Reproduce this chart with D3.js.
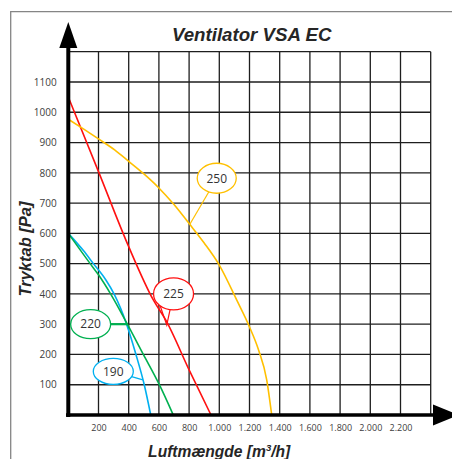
<!DOCTYPE html>
<html>
<head>
<meta charset="utf-8">
<script src="https://cdn.jsdelivr.net/npm/d3@7"></script>
<style>
  html, body { margin: 0; padding: 0; background: #fff; }
  svg { display: block; }
</style>
</head>
<body>
<div id="chart"></div>
<script>
// ---- Data ----
const xTicks = [200, 400, 600, 800, 1000, 1200, 1400, 1600, 1800, 2000, 2200];
const xTickLabels = ["200", "400", "600", "800", "1.000", "1.200", "1.400", "1.600", "1.800", "2.000", "2.200"];
const yTicks = [100, 200, 300, 400, 500, 600, 700, 800, 900, 1000, 1100];
const yTickLabels = ["100", "200", "300", "400", "500", "600", "700", "800", "900", "1000", "1100"];
const seriesNames = ["190", "220", "225", "250"];

// [airflow m3/h, pressure Pa]
const fan190 = [[0, 600], [100, 543], [166, 500], [250, 445], [303, 400], [386, 300], [448, 200], [503, 100], [546, 0]];
const fan220 = [[0, 600], [145, 500], [200, 463], [280, 400], [391, 300], [497, 200], [603, 100], [695, 0]];
const fan225 = [[0, 1050], [200, 804], [400, 556], [563, 380], [645, 314], [800, 149], [945, 0]];
const fan250 = [[0, 977], [100, 945], [200, 912], [309, 875], [400, 838], [497, 798], [600, 750], [700, 695], [799, 633], [900, 568], [1000, 495], [1115, 380], [1199, 292], [1260, 215], [1314, 116], [1347, 0]];

const W = 452, H = 459;
const svg = d3.select("#chart").append("svg").attr("width", W).attr("height", H);

const x = d3.scaleLinear().domain([0, 2400]).range([68.3, 430.7]);
const y = d3.scaleLinear().domain([0, 1200]).range([415, 51.7]);

// outer frame (only top and left visible)
svg.append("path")
  .attr("d", `M10.7,${H} L10.7,11.7 L${W},11.7`)
  .attr("fill", "none").attr("stroke", "#858585").attr("stroke-width", 1.3);

// title
svg.append("text")
  .attr("x", 251.7).attr("y", 40.7)
  .attr("text-anchor", "middle")
  .attr("font-family", "Liberation Sans, Arial, sans-serif")
  .attr("font-weight", "bold").attr("font-style", "italic")
  .attr("font-size", 18.7).attr("fill", "#262626")
  .text("Ventilator VSA EC");

// grid
const grid = svg.append("g").attr("stroke", "#1e1e1e").attr("stroke-width", 1.3);
d3.range(200, 2401, 200).forEach(v => {
  grid.append("line").attr("x1", x(v)).attr("x2", x(v)).attr("y1", y(1200)).attr("y2", y(0));
});
d3.range(100, 1201, 100).forEach(v => {
  grid.append("line").attr("x1", x(0)).attr("x2", x(2400)).attr("y1", y(v)).attr("y2", y(v));
});

// axes via d3 axis generators (labels only, lines drawn separately)
const yAxis = d3.axisLeft(y).tickValues(yTicks).tickSize(0).tickPadding(0)
  .tickFormat((d, i) => yTickLabels[i]);
const gy = svg.append("g").attr("transform", `translate(56.7,0)`).call(yAxis);
gy.select(".domain").remove();
gy.selectAll("text")
  .attr("font-family", "Open Sans, sans-serif").attr("font-size", 10).attr("fill", "#404040");

const xAxis = d3.axisBottom(x).tickValues(xTicks).tickSize(0).tickPadding(0)
  .tickFormat((d, i) => xTickLabels[i]);
const gx = svg.append("g").attr("transform", `translate(0,424.5)`).call(xAxis);
gx.select(".domain").remove();
gx.selectAll("text")
  .attr("font-family", "Open Sans, sans-serif").attr("font-size", 9).attr("fill", "#404040");

// axis titles
svg.append("text")
  .attr("transform", `translate(31,249) rotate(-90)`)
  .attr("text-anchor", "middle")
  .attr("font-family", "Liberation Sans, Arial, sans-serif")
  .attr("font-weight", "bold").attr("font-style", "italic")
  .attr("font-size", 16.5).attr("fill", "#262626")
  .text("Tryktab [Pa]");

const xt = svg.append("text")
  .attr("x", 219.2).attr("y", 456.5)
  .attr("text-anchor", "middle")
  .attr("font-family", "Liberation Sans, Arial, sans-serif")
  .attr("font-weight", "bold").attr("font-style", "italic")
  .attr("font-size", 15.6).attr("fill", "#262626");
xt.append("tspan").text("Luftmængde [m");
xt.append("tspan").attr("font-size", 9.5).attr("dy", -6).text("3");
xt.append("tspan").attr("dy", 6).text("/h]");

// curves
const colors = { "190": "#00B0F0", "220": "#00B050", "225": "#FF1010", "250": "#FFC000" };
const seriesData = { "190": fan190, "220": fan220, "225": fan225, "250": fan250 };
const line = d3.line().x(d => x(d[0])).y(d => y(d[1])).curve(d3.curveMonotoneX);
seriesNames.forEach(n => {
  svg.append("path").attr("d", line(seriesData[n]))
    .attr("fill", "none").attr("stroke", colors[n]).attr("stroke-width", 1.6);
});

// thick axis lines + arrows
svg.append("line").attr("x1", x(0)).attr("x2", x(0)).attr("y1", 417).attr("y2", 46)
  .attr("stroke", "#000").attr("stroke-width", 4);
svg.append("line").attr("x1", 66).attr("x2", 434).attr("y1", y(0)).attr("y2", y(0))
  .attr("stroke", "#000").attr("stroke-width", 3.6);
svg.append("path").attr("d", `M${x(0) - 9},48 L${x(0)},22 L${x(0) + 9},48 Z`).attr("fill", "#000");
svg.append("path").attr("d", `M433,${y(0) - 10.5} L459,${y(0)} L433,${y(0) + 10.5} Z`).attr("fill", "#000");

// annotations (ellipse callouts)
function ellipsePoint(cx, cy, rx, ry, tx, ty) {
  const dx = tx - cx, dy = ty - cy;
  const t = 1 / Math.sqrt((dx / rx) ** 2 + (dy / ry) ** 2);
  return [cx + dx * t, cy + dy * t];
}
function callout(name, cxv, cyv, rx, ry, txv, tyv, opts = {}) {
  const c = colors[name];
  const cx = x(cxv), cy = y(cyv), tx = x(txv), ty = y(tyv);
  const g = svg.append("g");
  if (opts.wedge) {
    const a1 = 132 * Math.PI / 180, a2 = 100 * Math.PI / 180;
    const p1 = [cx + rx * Math.cos(a1), cy + ry * Math.sin(a1)];
    const p2 = [cx + rx * Math.cos(a2), cy + ry * Math.sin(a2)];
    g.append("path").attr("d", `M${p1[0]},${p1[1]} L${tx},${ty} L${p2[0]},${p2[1]}`)
      .attr("fill", "none").attr("stroke", c).attr("stroke-width", 1.2);
  } else {
    const p = ellipsePoint(cx, cy, rx, ry, tx, ty);
    g.append("line").attr("x1", p[0]).attr("y1", p[1]).attr("x2", tx).attr("y2", ty)
      .attr("stroke", c).attr("stroke-width", opts.lw || 1.2);
  }
  g.append("ellipse").attr("cx", cx).attr("cy", cy).attr("rx", rx).attr("ry", ry)
    .attr("fill", "#fff").attr("stroke", c).attr("stroke-width", 1.3);
  g.append("text").attr("x", cx).attr("y", cy).attr("dy", "0.36em")
    .attr("text-anchor", "middle")
    .attr("font-family", "Open Sans, sans-serif").attr("font-size", 12).attr("fill", "#333")
    .text(name);
}
callout("250", 983, 782, 19.5, 15, 805, 630);
callout("225", 697, 400, 20, 16, 652, 297, { wedge: true });
callout("220", 148, 300, 20, 14.5, 395, 300, { lw: 2.2 });
callout("190", 298, 144, 20, 13, 494, 116);
</script>
</body>
</html>
